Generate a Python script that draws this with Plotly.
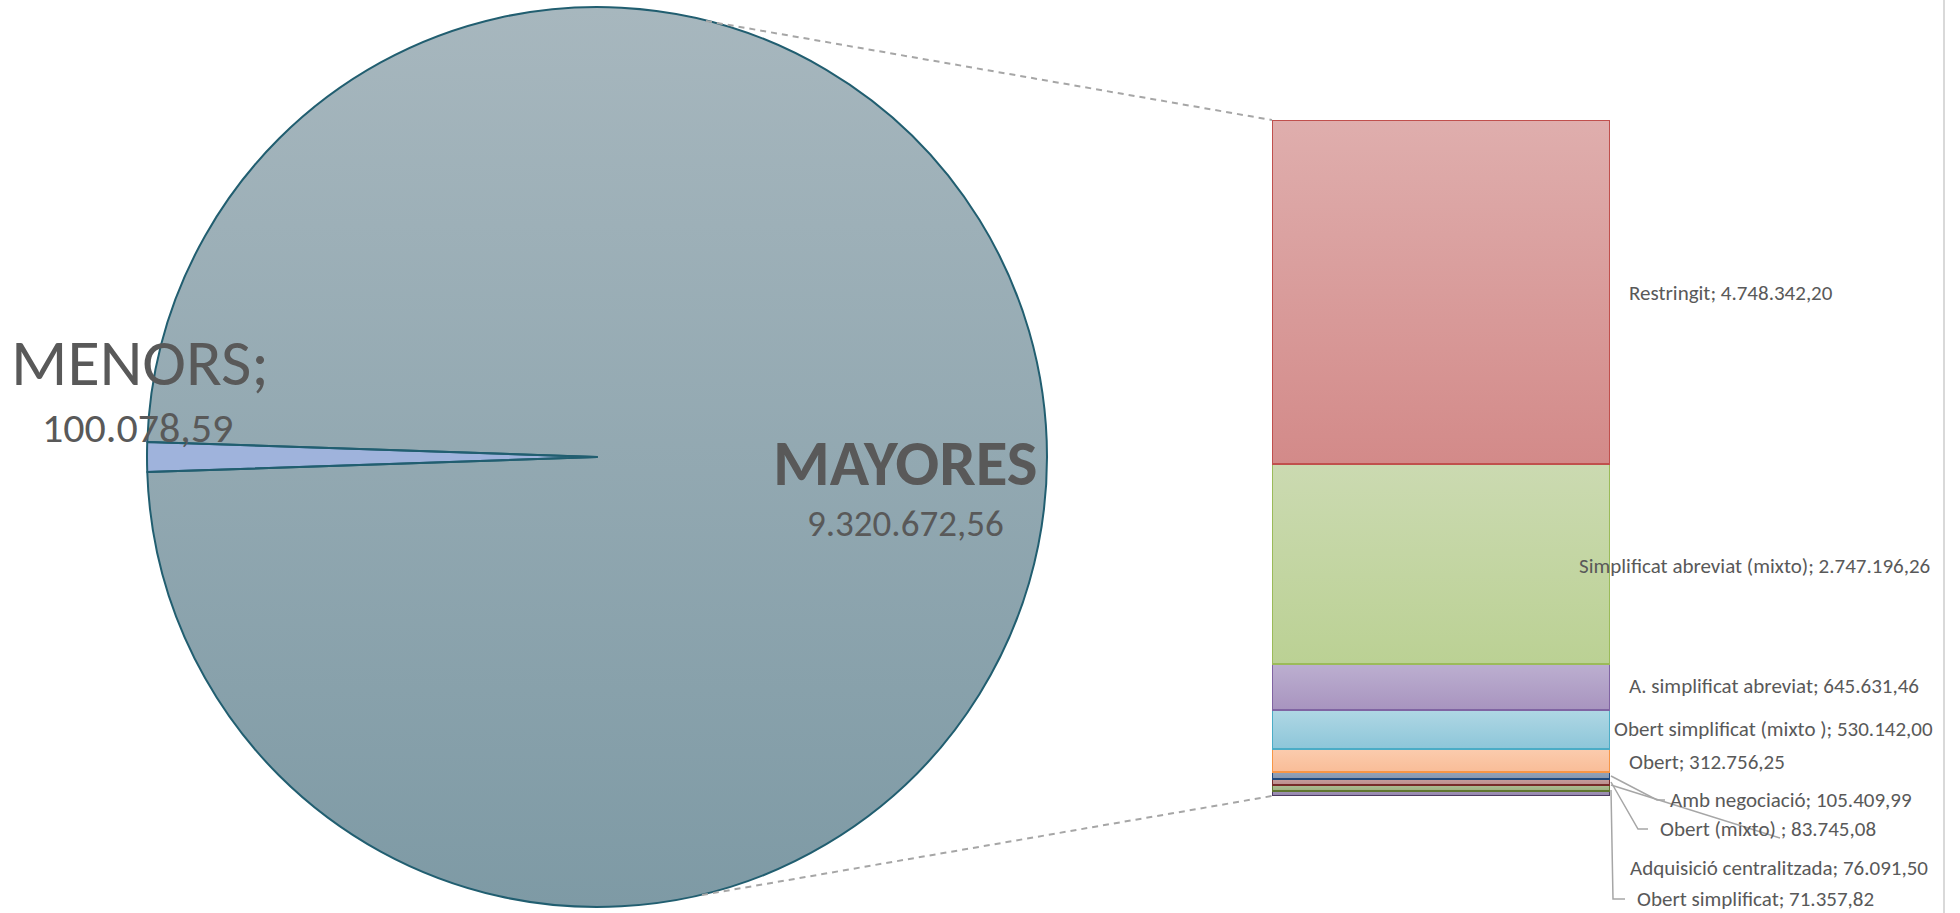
import numpy as np
import plotly.graph_objects as go

# Pie: contractes menors vs majors
pie_labels = ['MENORS', 'MAYORES']
pie_values = [100078.59, 9320672.56]

# Bar: desglossament dels contractes majors per procediment (de dalt a baix)
bar_labels = ['Restringit', 'Simplificat abreviat (mixto)', 'A. simplificat abreviat',
              'Obert simplificat (mixto )', 'Obert', 'Amb negociació', 'Obert (mixto) ',
              'Adquisició centralitzada', 'Obert simplificat']
bar_values = [4748342.20, 2747196.26, 645631.46, 530142.00, 312756.25,
              105409.99, 83745.08, 76091.50, 71357.82]

# degradat de cada tram (color de dalt, color de baix) i vora
bar_top = ['#DFAEAD', '#CBDAB1', '#BCAFD0', '#AFD7E4', '#FBCCAE',
           '#93A3BA', '#C69E9D', '#ADBE95', '#A295B8']
bar_bottom = ['#D38A89', '#BBD194', '#A894BF', '#8DC6D9', '#F9BD98',
              '#8496AF', '#B98C8B', '#9DB07F', '#9283AC']
bar_line = ['#C0504D', '#9BBB59', '#8064A2', '#4BACC6', '#F79646',
            '#1F497D', '#772C2A', '#5F7530', '#4D3B62']

W, H = 1960, 913
FONT = 'Carlito, Lato, sans-serif'
GREY = '#595959'
# posició del pastís en píxels
CX, CY, R = 597, 457, 450


def fmt(v):
    # format a la catalana: 4.748.342,20
    s = f'{v:,.2f}'
    return s.replace(',', 'X').replace('.', ',').replace('X', '.')


fig = go.Figure()

# fons en degradat del pastís (Excel omple amb degradat)
t = np.linspace(0, 2 * np.pi, 361)
fig.add_trace(go.Scatter(
    x=CX + R * np.cos(t), y=CY + R * np.sin(t), xaxis='x2', yaxis='y2',
    mode='lines', line=dict(width=0), fill='toself',
    fillgradient=dict(type='vertical', start=CY + R, stop=CY - R,
                      colorscale=[[0, '#7E9AA5'], [1, '#A7B7BE']]),
    hoverinfo='skip', showlegend=False,
))

# pastís
fig.add_trace(go.Pie(
    labels=pie_labels, values=pie_values,
    sort=False, direction='clockwise',
    rotation=270 - pie_values[0] / sum(pie_values) * 180,
    marker=dict(colors=['#9FB3DC', 'rgba(0,0,0,0)'], line=dict(color='#215E70', width=2)),
    textinfo='none', hoverinfo='label+value', showlegend=False,
    domain=dict(x=[(CX - R) / W, (CX + R) / W], y=[(H - CY - R) / H, (H - CY + R) / H]),
))

# degradat de fons de cada tram de la barra (eixos x/y)
tops = np.cumsum(bar_values[::-1])[::-1]
bases = tops - np.array(bar_values)
for b, tp, c1, c0 in zip(bases, tops, bar_top, bar_bottom):
    fig.add_trace(go.Scatter(
        x=[-0.5, 0.5, 0.5, -0.5, -0.5], y=[b, b, tp, tp, b], xaxis='x', yaxis='y',
        mode='lines', line=dict(width=0), fill='toself',
        fillgradient=dict(type='vertical', start=b, stop=tp, colorscale=[[0, c0], [1, c1]]),
        hoverinfo='skip', showlegend=False,
    ))

# barra apilada (primer traç a baix), per sobre del degradat
for lab, val, lc in reversed(list(zip(bar_labels, bar_values, bar_line))):
    fig.add_trace(go.Bar(
        x=[0], y=[val], width=1, name=lab,
        marker=dict(color='rgba(0,0,0,0)', line=dict(color=lc, width=2)),
        showlegend=False, xaxis='x3', yaxis='y3',
        hovertemplate=lab + ': %{y:,.2f}<extra></extra>',
    ))

# etiquetes del pastís
ann = [
    dict(x=905, y=462, text='<b>MAYORES</b>', font=dict(size=65, color=GREY)),
    dict(x=905, y=523, text=fmt(pie_values[1]), font=dict(size=37, color=GREY)),
    dict(x=140, y=362, text='MENORS;', font=dict(size=66, color=GREY)),
    dict(x=137, y=427, text=fmt(pie_values[0]), font=dict(size=42, color=GREY)),
]
for a in ann:
    a.update(xref='x2', yref='y2', showarrow=False, xanchor='center', yanchor='middle')
    a['font']['family'] = FONT
    fig.add_annotation(**a)

# etiquetes de la barra
label_pos = [(1627, 293), (1577, 566), (1627, 686), (1612, 729), (1627, 762),
             (1668, 800), (1658, 829), (1628, 868), (1635, 899)]
for lab, val, (px, py) in zip(bar_labels, bar_values, label_pos):
    fig.add_annotation(x=px, y=py, xref='x2', yref='y2', text=f'{lab}; {fmt(val)}',
                       showarrow=False, xanchor='left', yanchor='middle',
                       font=dict(family=FONT, size=21, color=GREY))

# línies guia de les etiquetes petites
leaders = [
    [(1611, 776), (1657, 800), (1665, 800)],
    [(1611, 782), (1638, 829), (1648, 829)],
    [(1611, 785), (1780, 838)],
    [(1611, 790), (1613, 899), (1625, 899)],
]
for pts in leaders:
    path = 'M ' + ' L '.join(f'{x},{y}' for x, y in pts)
    fig.add_shape(type='path', path=path, xref='x2', yref='y2',
                  line=dict(color='#A6A6A6', width=1.5))

# connectors discontinus pastís -> barra
for (x0, y0), (x1, y1) in [((706, 21), (1272, 120)), ((702, 895), (1272, 796))]:
    fig.add_shape(type='line', x0=x0, y0=y0, x1=x1, y1=y1, xref='x2', yref='y2',
                  line=dict(color='#A6A6A6', width=2, dash='6px,5px'))

# vora dreta de l'àrea del gràfic
fig.add_shape(type='line', x0=1944, y0=0, x1=1944, y1=H, xref='x2', yref='y2',
              line=dict(color='#D9D9D9', width=2))

bar_x = dict(domain=[1272 / W, 1610 / W], range=[-0.5, 0.5], visible=False, fixedrange=True)
bar_y = dict(domain=[(H - 796) / H, (H - 120) / H], range=[0, sum(bar_values)],
             visible=False, fixedrange=True)

fig.update_layout(
    width=W, height=H,
    margin=dict(l=0, r=0, t=0, b=0),
    paper_bgcolor='white', plot_bgcolor='rgba(0,0,0,0)',
    barmode='stack', bargap=0,
    xaxis=bar_x, yaxis=bar_y,
    xaxis3=dict(bar_x, overlaying='x', anchor='y3'),
    yaxis3=dict(bar_y, overlaying='y', anchor='x3'),
    xaxis2=dict(domain=[0, 1], range=[0, W], visible=False, anchor='y2', fixedrange=True),
    yaxis2=dict(domain=[0, 1], range=[H, 0], visible=False, anchor='x2', fixedrange=True),
)

# sense marge al body perquè el gràfic ocupi tota la finestra
fig.write_html('out.html', config={'displayModeBar': False},
               post_script="document.body.style.margin='0';")
